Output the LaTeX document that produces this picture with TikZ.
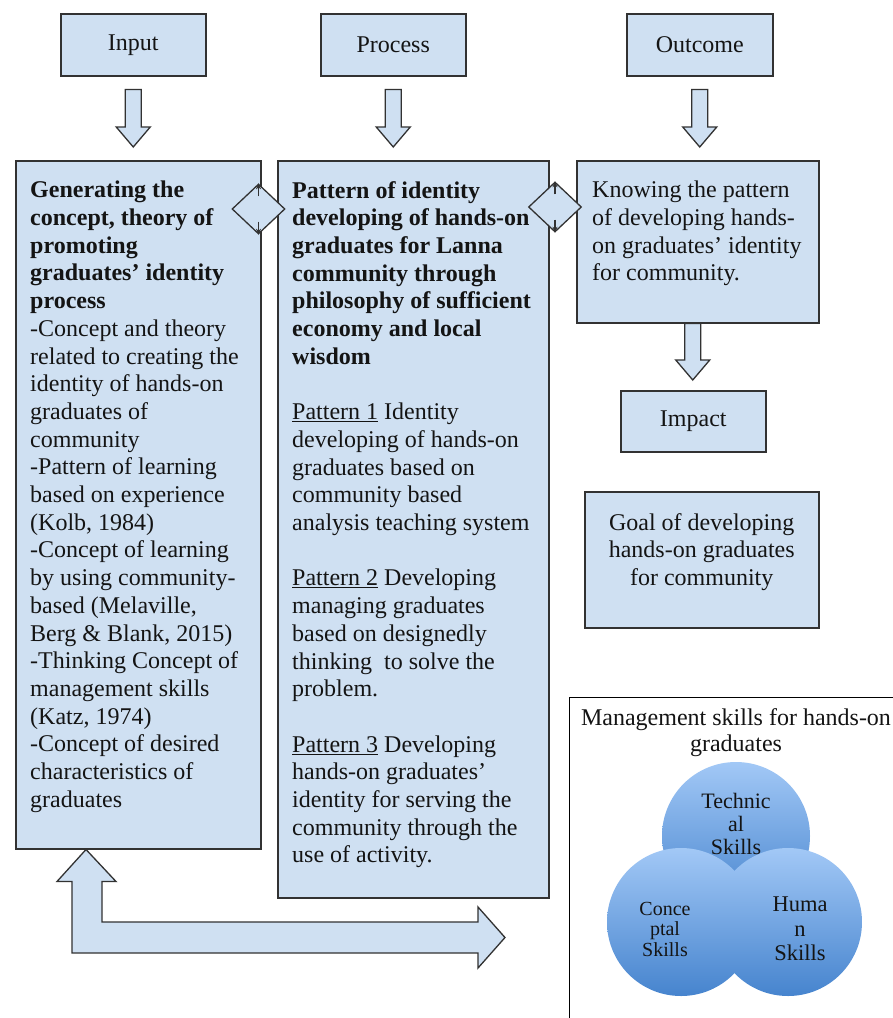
\documentclass[tikz,border=0pt]{standalone}
\usepackage{fontspec}
\setmainfont{Liberation Serif}
\usetikzlibrary{shapes.geometric,calc,arrows.meta}
\definecolor{boxfill}{RGB}{207,224,242}
\definecolor{boxline}{RGB}{50,50,50}
\definecolor{txtcol}{RGB}{20,20,20}
\definecolor{circtop}{RGB}{162,200,246}
\definecolor{circbot}{RGB}{70,132,206}
\newcommand\dnarrow[2]{\draw[barrow] let \p1=(#1), \p2=(#2) in
  (\x1-8pt,\y1) -- (\x1-8pt,\y2+20pt) -- (\x1-17pt,\y2+20pt) -- (\x1,\y2)
  -- (\x1+17pt,\y2+20pt) -- (\x1+8pt,\y2+20pt) -- (\x1+8pt,\y1) -- cycle;}
\begin{document}
\begin{tikzpicture}[x=1pt,y=-1pt,
  box/.style={draw=boxline, fill=boxfill, line width=1.5pt, rectangle, inner sep=0pt, anchor=north west,
    font=\fontsize{24}{27.7}\selectfont, text=txtcol},
  barrow/.style={draw=boxline, fill=boxfill, line width=1.3pt, line join=miter},
  txt/.style={inner sep=0pt, anchor=north west, align=left, text=txtcol, font=\fontsize{24}{27.7}\selectfont},
  ctxt/.style={inner sep=0pt, align=center, text=txtcol},
  skill/.style={circle, minimum size=148pt, inner sep=0pt, top color=circtop, bottom color=circbot, draw=none},
  link/.style={diamond, draw=boxline, fill=boxfill, line width=1.3pt, minimum width=53pt, minimum height=50pt, inner sep=0pt},
  stub/.style={-{Stealth[length=6pt,width=5pt]}, draw=boxline, line width=1.5pt}
]
\clip (0,0) rectangle (893,1018);
\fill[white] (0,0) rectangle (893,1018);

% top boxes
\node[box, minimum width=145pt, minimum height=62pt] (input) at (60,13) {Input};
\node[box, minimum width=145pt, minimum height=62pt] (process) at (320,13) {Process};
\node[box, minimum width=146pt, minimum height=62pt] (outcome) at (626,13) {Outcome};

% main boxes
\node[box, minimum width=245pt, minimum height=688pt] (inbox) at (15,160) {};
\node[box, minimum width=271pt, minimum height=737pt] (probox) at (277,160) {};
\node[box, minimum width=242pt, minimum height=162pt] (know) at (576,160) {};
\node[box, minimum width=145pt, minimum height=61pt] (impact) at (620,390) {Impact};
\node[box, minimum width=234pt, minimum height=136pt] (goal) at (584,491) {};

% texts
\node[txt] (intext) at (30,181) {\textbf{Generating the}\\
\textbf{concept, theory of}\\
\textbf{promoting}\\
\textbf{graduates’ identity}\\
\textbf{process}\\
-Concept and theory\\
related to creating the\\
identity of hands-on\\
graduates of\\
community\\
-Pattern of learning\\
based on experience\\
(Kolb, 1984)\\
-Concept of learning\\
by using community-\\
based (Melaville,\\
Berg \& Blank, 2015)\\
-Thinking Concept of\\
management skills\\
(Katz, 1974)\\
-Concept of desired\\
characteristics of\\
graduates};

\node[txt] (protext) at (292,181) {\textbf{Pattern of identity}\\
\textbf{developing of hands-on}\\
\textbf{graduates for Lanna}\\
\textbf{community through}\\
\textbf{philosophy of sufficient}\\
\textbf{economy and local}\\
\textbf{wisdom}\\[27.7pt]
\underline{Pattern 1} Identity\\
developing of hands-on\\
graduates based on\\
community based\\
analysis teaching system\\[27.7pt]
\underline{Pattern 2} Developing\\
managing graduates\\
based on designedly\\
thinking\ \ to solve the\\
problem.\\[27.7pt]
\underline{Pattern 3} Developing\\
hands-on graduates’\\
identity for serving the\\
community through the\\
use of activity.};

\node[txt] (knowtext) at (592,181) {Knowing the pattern\\
of developing hands-\\
on graduates’ identity\\
for community.};

\node[ctxt, anchor=north, font=\fontsize{24}{27.7}\selectfont] (goaltext) at ($(goal.north)+(0,22)$)
  {Goal of developing\\hands-on graduates\\for community};

% down arrows
\coordinate (ia) at ($(input.south)+(0,13)$);
\coordinate (ib) at ($(inbox.north)+(0,-13)$);
\coordinate (pa) at ($(process.south)+(0,13)$);
\coordinate (pb) at ($(probox.north)+(0,-13)$);
\coordinate (oa) at ($(outcome.south)+(0,13)$);
\coordinate (ob) at ($(know.north)+(0,-13)$);
\coordinate (ka) at ($(know.south)+(-5,0)$);
\coordinate (kb) at ($(impact.north)+(0,-10)$);
\dnarrow{ia}{ib}
\dnarrow{pa}{pb}
\dnarrow{oa}{ob}
\dnarrow{ka}{kb}

% diamond links
\node[link] (d1) at (258.5,209) {};
\draw[stub] ($(d1.north)+(0,13)$) -- (d1.north);
\draw[stub] ($(d1.south)+(0,-13)$) -- (d1.south);
\node[link] (d2) at (555,207) {};
\draw[stub] ($(d2.north)+(0,13)$) -- (d2.north);
\draw[stub] ($(d2.south)+(0,-13)$) -- (d2.south);

% bottom L-shaped double arrow
\coordinate (uptip) at ($(inbox.south west)+(71,0)$);
\coordinate (rtip) at (505,937.5);
\draw[barrow] let \p1=(uptip), \p2=(rtip) in
  (\p1) -- ++(30,32) -- ++(-14,0) -- (\x1+16pt,\y2+15.5pt) -- (\x2-27pt,\y2+15.5pt)
  -- ++(0,-15) -- (\p2) -- ++(-27,30.5) -- ++(0,-15) -- (\x1-14pt,\y2-15.5pt)
  -- (\x1-14pt,\y1-32pt) -- ++(-15,0) -- cycle;

% management skills
\node[draw=black, line width=1.2pt, rectangle, anchor=north west, minimum width=340pt, minimum height=340pt, inner sep=0pt] (mgmt) at (569,697) {};
\node[ctxt, anchor=north, font=\fontsize{24}{26}\selectfont] (mgmttitle) at (736,708)
  {Management skills for hands-on\\graduates};
\node[skill] (tech) at (736,836) {};
\node[skill] (conc) at (681,922) {};
\node[skill] (hum) at (788,922) {};
\node[ctxt, font=\fontsize{22}{23}\selectfont] (techtxt) at (736,824) {Technic\\al\\Skills};
\node[ctxt, font=\fontsize{20}{20.5}\selectfont] (conctxt) at (665,929) {Conce\\ptal\\Skills};
\node[ctxt, font=\fontsize{22.5}{24.5}\selectfont] (humtxt) at (800,929) {Huma\\n\\Skills};
\end{tikzpicture}
\end{document}
